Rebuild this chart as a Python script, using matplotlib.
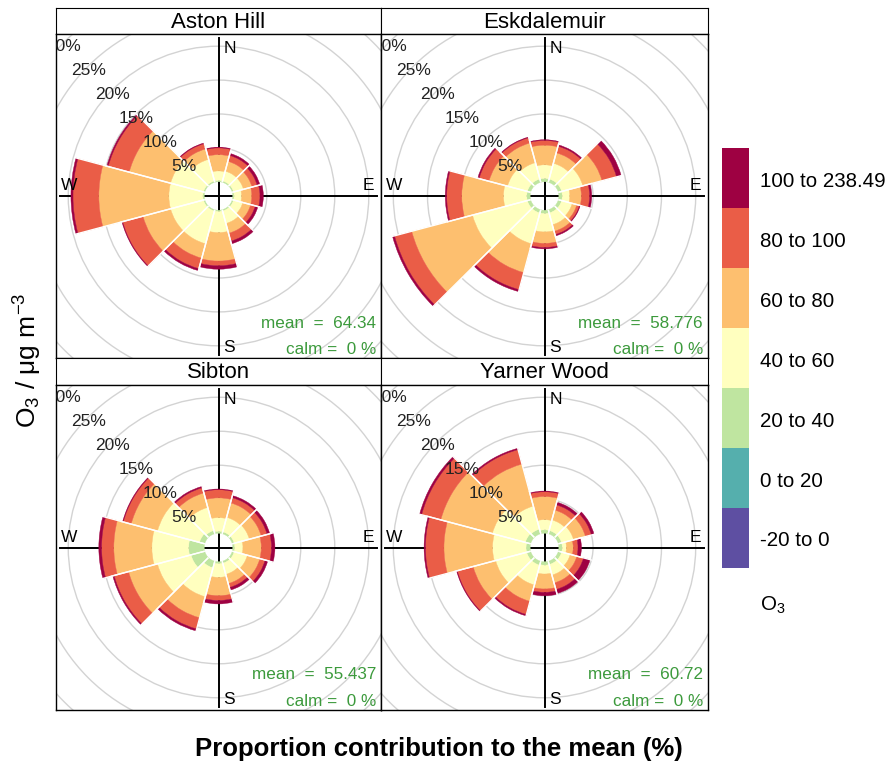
import numpy as np
import matplotlib.pyplot as plt
from matplotlib.patches import Wedge, Circle

plt.rcParams['font.family'] = ['Liberation Sans', 'DejaVu Sans']
plt.rcParams['mathtext.default'] = 'regular'

# Data (proportion contribution to the mean, %)
SITES = ['Aston Hill', 'Eskdalemuir', 'Sibton', 'Yarner Wood']
MEANS = ['64.34', '58.776', '55.437', '60.72']
DIRECTIONS = [0, 30, 60, 90, 120, 150, 180, 210, 240, 270, 300, 330]
BINS = ['-20 to 0', '0 to 20', '20 to 40', '40 to 60', '60 to 80', '80 to 100', '100 to 238.49']
COLOURS = ['#5E4FA2', '#55AFAD', '#BFE5A0', '#FFFFBF', '#FDBF6F', '#EA5D47', '#9E0142']
GRID_PCT = [5, 10, 15, 20, 25, 30]

# one row per direction: values for each bin (low to high)
aston = [
    [0, 0, 0.2, 1.4, 2.4, 1.0, 0.1],
    [0, 0, 0.2, 1.5, 1.5, 0.9, 0.3],
    [0, 0, 0.2, 1.5, 1.3, 0.8, 0.4],
    [0, 0, 0.2, 1.1, 1.5, 1.2, 0.5],
    [0, 0, 0.2, 1.4, 1.2, 0.7, 0.4],
    [0, 0, 0.2, 1.9, 1.5, 1.2, 0.4],
    [0, 0, 0.2, 3.1, 4.2, 0.7, 0.5],
    [0, 0, 0.2, 5.0, 2.2, 1.6, 0.3],
    [0, 0, 0.2, 5.0, 4.2, 3.1, 0.1],
    [0, 0, 0.2, 5.0, 10.3, 3.8, 0.3],
    [0, 0, 0.2, 5.0, 6.3, 3.2, 0.2],
    [0, 0, 0.2, 3.3, 1.6, 0.8, 0.1],
]
eskdalemuir = [
    [0, 0, 0.5, 2.0, 2.9, 0.7, 0.1],
    [0, 0, 0.5, 2.4, 1.6, 1.0, 0.2],
    [0, 0, 0.5, 3.2, 2.9, 2.2, 0.7],
    [0, 0, 0.5, 1.1, 1.7, 1.2, 0.3],
    [0, 0, 0.5, 1.6, 0.7, 0.4, 0.1],
    [0, 0, 0.5, 1.8, 1.0, 0.5, 0.2],
    [0, 0, 0.5, 2.7, 1.7, 0.6, 0.2],
    [0, 0, 0.5, 4.7, 4.4, 2.6, 0.3],
    [0, 0, 0.5, 8.3, 9.2, 2.6, 0.3],
    [0, 0, 0.5, 3.4, 6.1, 2.2, 0.2],
    [0, 0, 0.5, 3.0, 2.8, 1.5, 0.2],
    [0, 0, 0.5, 2.5, 3.0, 0.8, 0.1],
]
sibton = [
    [0, 0, 0.3, 2.0, 2.9, 1.2, 0.1],
    [0, 0, 0.3, 2.2, 2.2, 0.8, 0.3],
    [0, 0, 0.3, 2.3, 1.8, 0.9, 0.4],
    [0, 0, 0.3, 1.2, 2.7, 1.5, 0.5],
    [0, 0, 0.3, 2.0, 1.9, 0.8, 0.4],
    [0, 0, 0.3, 1.7, 1.4, 0.6, 0.4],
    [0, 0, 0.3, 2.0, 2.7, 0.7, 0.5],
    [0, 0, 1.0, 4.4, 3.2, 1.7, 0.3],
    [0, 0, 2.1, 5.1, 4.4, 2.2, 0.2],
    [0, 0, 2.3, 5.4, 5.6, 1.8, 0.4],
    [0, 0, 0.8, 6.4, 4.0, 1.2, 0.1],
    [0, 0, 0.5, 3.5, 2.2, 0.8, 0.2],
]
yarner = [
    [0, 0, 0.5, 1.5, 3.4, 0.7, 0.1],
    [0, 0, 0.5, 1.6, 1.5, 0.8, 0.4],
    [0, 0, 0.5, 1.8, 1.8, 0.9, 0.4],
    [0, 0, 0.5, 0.6, 1.0, 0.7, 0.5],
    [0, 0, 0.5, 1.3, 1.0, 1.0, 1.0],
    [0, 0, 0.5, 1.6, 1.2, 1.0, 0.6],
    [0, 0, 0.5, 1.3, 2.2, 0.5, 0.5],
    [0, 0, 0.6, 3.0, 2.5, 2.0, 0.2],
    [0, 0, 0.6, 4.7, 3.4, 2.4, 0.1],
    [0, 0, 0.6, 4.9, 7.1, 2.7, 0.2],
    [0, 0, 0.8, 5.0, 7.8, 2.9, 0.3],
    [0, 0, 0.7, 3.5, 6.4, 2.2, 0.2],
]
SITE_DATA = [aston, eskdalemuir, sibton, yarner]

HOLE = 2.1      # centre offset in % units
LIM = 23.9      # half width of each panel
SECTOR = 30

W, H = 891, 766
fig = plt.figure(figsize=(W / 100, H / 100), dpi=100)

def fax(x0, y0, x1, y1):
    # axes from pixel box (top-left origin)
    return fig.add_axes([x0 / W, 1 - y1 / H, (x1 - x0) / W, (y1 - y0) / H])

panels = [(56, 8, 381, 34, 358), (381, 8, 708, 34, 358),
          (56, 358, 381, 385, 710), (381, 358, 708, 385, 710)]

for site, mean, data, (x0, ys, x1, yp, yb) in zip(SITES, MEANS, SITE_DATA, panels):
    # strip
    sax = fax(x0, ys, x1, yp)
    sax.set_xticks([]); sax.set_yticks([])
    sax.text(0.5, 0.45, site, ha='center', va='center', fontsize=16, transform=sax.transAxes)

    ax = fax(x0, yp, x1, yb)
    ax.set_xlim(-LIM, LIM)
    ax.set_ylim(-LIM, LIM)
    ax.set_xticks([]); ax.set_yticks([])
    for s in ax.spines.values():
        s.set_linewidth(1.0)

    for p in GRID_PCT:
        ax.add_patch(Circle((0, 0), HOLE + p, fill=False, ec='#d3d3d3', lw=1.0, zorder=1))
    ax.plot([-23.3, 23.3], [0, 0], color='black', lw=1.4, zorder=2)
    ax.plot([0, 0], [-23.5, 23.3], color='black', lw=1.4, zorder=2)

    for d, row in zip(DIRECTIONS, data):
        t1 = 90 - d - SECTOR / 2
        t2 = 90 - d + SECTOR / 2
        inner = HOLE
        for val, col in zip(row, COLOURS):
            if val <= 0:
                continue
            ax.add_patch(Wedge((0, 0), inner + val, t1, t2, width=val,
                               fc=col, ec=col, lw=0.3, zorder=3))
            inner += val
        # white radial separators between sectors
        for t in (t1, t2):
            a = np.deg2rad(t)
            ax.plot([HOLE * np.cos(a), (inner + 0.3) * np.cos(a)],
                    [HOLE * np.sin(a), (inner + 0.3) * np.sin(a)],
                    color='white', lw=1.0, zorder=4, solid_capstyle='butt')

    for p in GRID_PCT:
        r = HOLE + p
        ax.text(-r * 0.707, r * 0.707 - 0.65, f'{p}%', ha='center', va='center',
                fontsize=12.5, color='#222222', zorder=5, clip_on=True)

    ax.text(0.7, 21.8, 'N', ha='left', va='center', fontsize=12.5, zorder=5)
    ax.text(0.7, -22.4, 'S', ha='left', va='center', fontsize=12.5, zorder=5)
    ax.text(22.9, 1.5, 'E', ha='right', va='center', fontsize=12.5, zorder=5)
    ax.text(-23.2, 1.5, 'W', ha='left', va='center', fontsize=12.5, zorder=5)

    ax.text(0.985, 0.108, f'mean  =  {mean}', ha='right', va='center', fontsize=12.3,
            color='#3c9a3c', transform=ax.transAxes, zorder=5)
    ax.text(0.985, 0.025, 'calm =  0 %', ha='right', va='center', fontsize=12.3,
            color='#3c9a3c', transform=ax.transAxes, zorder=5)

# legend (colour key)
lax = fax(722, 148, 749, 568)
lax.set_xlim(0, 1)
lax.set_ylim(0, len(BINS))
lax.axis('off')
for i, (lab, col) in enumerate(zip(BINS, COLOURS)):
    lax.bar(0.5, 1, bottom=i, width=1, color=col, edgecolor='none')
    lax.text(1.4, i + 0.45, lab, ha='left', va='center', fontsize=14.8, clip_on=False)
fig.text(760 / W, 1 - 605 / H, 'O$_3$', ha='left', va='center', fontsize=14.8)

fig.text(28 / W, 1 - 360 / H, 'O$_3$ / μg m$^{-3}$', rotation=90, ha='center', va='center', fontsize=19)
fig.text(439 / W, 1 - 749 / H, 'Proportion contribution to the mean (%)', ha='center', va='center',
         fontsize=18.5, fontweight='bold')

fig.savefig('out.png', dpi=100)
